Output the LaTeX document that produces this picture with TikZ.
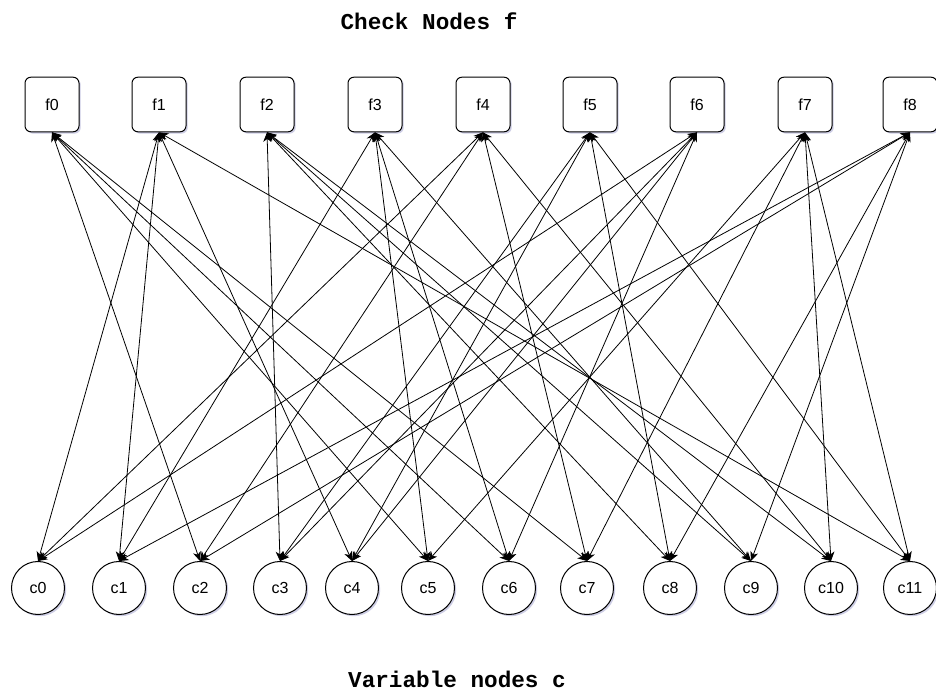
\documentclass[tikz,border=0pt]{standalone}
\usepackage{fontspec}
\setmainfont{Liberation Sans}
\newfontfamily\titlefont{Liberation Mono}
\usetikzlibrary{arrows.meta,shadows}
\begin{document}
\begin{tikzpicture}[x=0.75pt,y=-0.75pt,
  softshadow/.style={drop shadow={shadow xshift=1.3pt,shadow yshift=-1.3pt,opacity=0.3,fill=blue!30!gray}},
  checkbox/.style={draw,line width=0.75pt,rounded corners=4.5pt,fill=white,
    minimum width=40.5pt,minimum height=41pt,inner sep=0pt,
    font=\fontsize{12}{14}\selectfont,softshadow},
  varcirc/.style={draw,circle,line width=0.75pt,fill=white,
    minimum size=39.75pt,inner sep=0pt,
    font=\fontsize{12}{14}\selectfont,softshadow},
  link/.style={line width=0.6pt,
    {Stealth[length=7pt,width=6pt,inset=2pt]}-{Stealth[length=7pt,width=6pt,inset=2pt]}},
  caption/.style={font=\titlefont\bfseries\fontsize{17}{20}\selectfont,anchor=base}]

\useasboundingbox (0,0) rectangle (936,691);

% check nodes
\foreach \i/\x in {0/52,1/159,2/267,3/375,4/483,5/590,6/697,7/805,8/910}
  \node[checkbox] (f\i) at (\x,104.5) {f\i};

% variable nodes
\foreach \j/\x in {0/38,1/119,2/200,3/280,4/352,5/428,6/509,7/587,8/670,9/751,10/831,11/910}
  \node[varcirc] (c\j) at (\x,588) {c\j};

% edges of the Tanner graph
\foreach \i/\cs in {0/{2,5,6,7},1/{0,1,4,11},2/{3,8,9,10},3/{1,5,6,9},
                    4/{0,2,7,10},5/{3,4,8,11},6/{0,3,4,6},7/{5,7,10,11},8/{1,2,8,9}}
  \foreach \j in \cs
    \draw[link] (f\i.south) -- (c\j.north);

\node[caption] (top) at (429,30) {Check Nodes f};
\node[caption] (bottom) at (457,687) {Variable nodes c};
\end{tikzpicture}
\end{document}
